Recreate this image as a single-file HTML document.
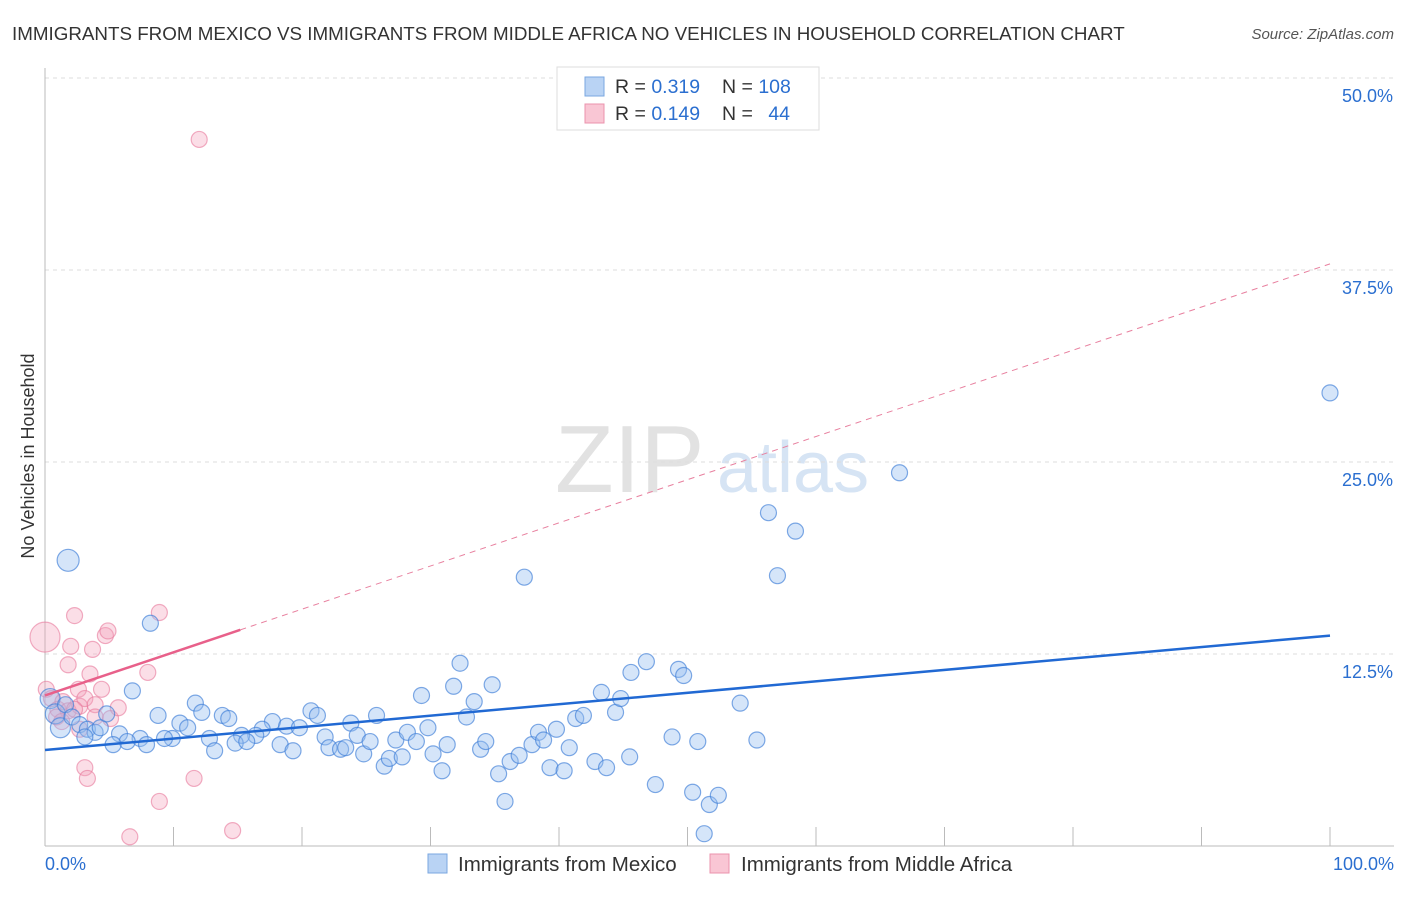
<!DOCTYPE html>
<html><head><meta charset="utf-8"><style>
body{margin:0;background:#fff;font-family:"Liberation Sans",sans-serif;}
svg text{font-family:"Liberation Sans",sans-serif;}
</style></head><body>
<svg id="chart" width="1406" height="892">
<text x="12" y="40" font-size="18.8" fill="#333">IMMIGRANTS FROM MEXICO VS IMMIGRANTS FROM MIDDLE AFRICA NO VEHICLES IN HOUSEHOLD CORRELATION CHART</text>
<text x="1394" y="39" font-size="15" fill="#555" font-style="italic" text-anchor="end">Source: ZipAtlas.com</text>
<g>
<text x="555" y="492" font-size="96" fill="#e2e2e2" font-family="Liberation Serif,serif">ZIP</text>
<text x="717" y="492" font-size="72" fill="#d6e4f4">atlas</text>
</g>
<g id="grid"></g>
<g id="axes"></g>
<g id="marks"></g>
<text transform="translate(34,456) rotate(-90)" font-size="18" fill="#333" text-anchor="middle">No Vehicles in Household</text>
<g>
<rect x="557" y="67" width="262" height="63" fill="#fff" stroke="#ddd"/>
<rect x="585" y="77" width="19" height="19" fill="#b9d3f4" stroke="#7aa7e0"/>
<rect x="585" y="104" width="19" height="19" fill="#f9c6d4" stroke="#eb93ad"/>
<text x="615" y="93" font-size="19.5" fill="#333">R = <tspan fill="#2b6fd0">0.319</tspan></text>
<text x="722" y="93" font-size="19.5" fill="#333">N = <tspan fill="#2b6fd0">108</tspan></text>
<text x="615" y="120" font-size="19.5" fill="#333">R = <tspan fill="#2b6fd0">0.149</tspan></text>
<text x="722" y="120" font-size="19.5" fill="#333">N = <tspan fill="#2b6fd0" dx="10">44</tspan></text>
</g>
<g>
<rect x="428" y="854" width="19" height="19" fill="#b9d3f4" stroke="#7aa7e0"/>
<text x="458" y="871" font-size="20.5" fill="#333">Immigrants from Mexico</text>
<rect x="710" y="854" width="19" height="19" fill="#f9c6d4" stroke="#eb93ad"/>
<text x="741" y="871" font-size="20.5" fill="#333">Immigrants from Middle Africa</text>
</g>
</svg>
<script>
const yTicks=[12.5,25,37.5,50];
const yTickLabels=["12.5%","25.0%","37.5%","50.0%"];
const xTicks=[0,10,20,30,40,50,60,70,80,90,100];
const mexicoX=[1.8,8.2,6.8,11.7,8.8,12.2,13.8,14.3,10.5,11.1,17.7,20.7,21.2,18.8,19.8,16.9,16.4,15.3,12.8,9.9,9.3,7.4,5.8,6.4,5.3,7.9,13.2,14.8,15.7,18.3,19.3,21.8,22.1,23.0,23.8,24.3,23.4,24.8,25.3,25.8,26.4,26.8,27.8,27.3,28.2,28.9,29.8,29.3,30.2,30.9,31.3,31.8,32.8,33.4,32.3,33.9,34.3,34.8,35.3,35.8,36.2,36.9,37.3,37.9,38.4,38.8,39.3,39.8,40.4,40.8,41.3,41.9,42.8,43.3,43.7,44.4,44.8,45.5,45.6,46.8,47.5,48.8,49.3,49.7,50.4,50.8,51.3,51.7,52.4,54.1,55.4,56.3,57.0,58.4,66.5,100,0.4,0.8,1.2,1.6,2.1,2.7,3.3,3.9,4.3,4.8,3.1];
const mexicoY=[18.6,14.5,10.1,9.3,8.5,8.7,8.5,8.3,8.0,7.7,8.1,8.8,8.5,7.8,7.7,7.6,7.2,7.2,7.0,7.0,7.0,7.0,7.3,6.8,6.6,6.6,6.2,6.7,6.8,6.6,6.2,7.1,6.4,6.3,8.0,7.2,6.4,6.0,6.8,8.5,5.2,5.7,5.8,6.9,7.4,6.8,7.7,9.8,6.0,4.9,6.6,10.4,8.4,9.4,11.9,6.3,6.8,10.5,4.7,2.9,5.5,5.9,17.5,6.6,7.4,6.9,5.1,7.6,4.9,6.4,8.3,8.5,5.5,10.0,5.1,8.7,9.6,5.8,11.3,12.0,4.0,7.1,11.5,11.1,3.5,6.8,0.8,2.7,3.3,9.3,6.9,21.7,17.6,20.5,24.3,29.5,9.6,8.6,7.7,9.2,8.4,7.9,7.6,7.4,7.7,8.6,7.1];
const africaX=[0,0.1,0.5,1.0,1.4,1.8,2.3,1.8,2.0,2.6,2.7,3.1,2.7,3.1,3.3,3.7,3.5,3.9,4.4,4.7,4.9,5.1,5.7,8.0,8.9,8.9,6.6,11.6,14.6,12.0,0.9,1.3,2.3,3.9];
const africaY=[13.6,10.2,9.6,8.9,9.4,8.8,15.0,11.8,13.0,10.2,9.1,9.6,7.6,5.1,4.4,12.8,11.2,9.2,10.2,13.7,14.0,8.3,9.0,11.3,15.2,2.9,0.6,4.4,1.0,46.0,8.4,8.1,8.9,8.4];
const mexicoLine=[6.25,13.7];
const africaLine=[9.8,37.9];
const africaSolidEnd=15.2;

const NS="http://www.w3.org/2000/svg";
const X0=45,X1=1330,Y0=846,YPER=192/12.5;
const sx=v=>X0+(v/100)*(X1-X0);
const sy=v=>Y0-v*YPER;
function mk(tag,attrs,parent){const e=document.createElementNS(NS,tag);for(const k in attrs)e.setAttribute(k,attrs[k]);parent.appendChild(e);return e;}
const grid=document.getElementById('grid'),axes=document.getElementById('axes'),marks=document.getElementById('marks');
yTicks.forEach((t,i)=>{
 const l=mk('line',{x1:X0,x2:1394,y1:sy(t),y2:sy(t),stroke:'#ddd','stroke-dasharray':'4,4'},grid);
 
 
 const tx=mk('text',{x:1393,y:sy(t)+24,'font-size':18,fill:'#2b6fd0','text-anchor':'end'},axes);
 tx.textContent=yTickLabels[i];
 
 
});
let a=mk('line',{x1:X0,x2:X0,y1:68,y2:Y0,stroke:'#bbb'},axes);


a=mk('line',{x1:X0,x2:1394,y1:Y0,y2:Y0,stroke:'#bbb'},axes);


xTicks.forEach(t=>{
 const l=mk('line',{x1:sx(t),x2:sx(t),y1:Y0-19,y2:Y0,stroke:'#bbb'},axes);
 
 
});
let t=mk('text',{x:45,y:870,'font-size':18,fill:'#2b6fd0'},axes);t.textContent='0.0%';


t=mk('text',{x:1394,y:870,'font-size':18,fill:'#2b6fd0','text-anchor':'end'},axes);t.textContent='100.0%';



africaX.forEach((x,i)=>{
 const r=i===0?15:8;
 const c=mk('circle',{cx:sx(x),cy:sy(africaY[i]),r:r,fill:'rgba(244,160,186,0.35)',stroke:'rgba(232,120,155,0.6)','stroke-width':1.2},marks);
 
 
});
mexicoX.forEach((x,i)=>{
 const r=i===0?11:(i>=96&&i<=98?10:8);
 const c=mk('circle',{cx:sx(x),cy:sy(mexicoY[i]),r:r,fill:'rgba(150,190,240,0.4)',stroke:'rgba(60,125,215,0.65)','stroke-width':1.2},marks);
 
 
});
const af=x=>africaLine[0]+(africaLine[1]-africaLine[0])*x/100;
let ln=mk('line',{x1:sx(africaSolidEnd),y1:sy(af(africaSolidEnd)),x2:sx(100),y2:sy(af(100)),stroke:'#e8809f','stroke-width':1,'stroke-dasharray':'6,5'},marks);


ln=mk('line',{x1:sx(0),y1:sy(af(0)),x2:sx(africaSolidEnd),y2:sy(af(africaSolidEnd)),stroke:'#e8608a','stroke-width':2.5},marks);


ln=mk('line',{x1:sx(0),y1:sy(mexicoLine[0]),x2:sx(100),y2:sy(mexicoLine[1]),stroke:'#2169d3','stroke-width':2.5},marks);


</script>
</body></html>
